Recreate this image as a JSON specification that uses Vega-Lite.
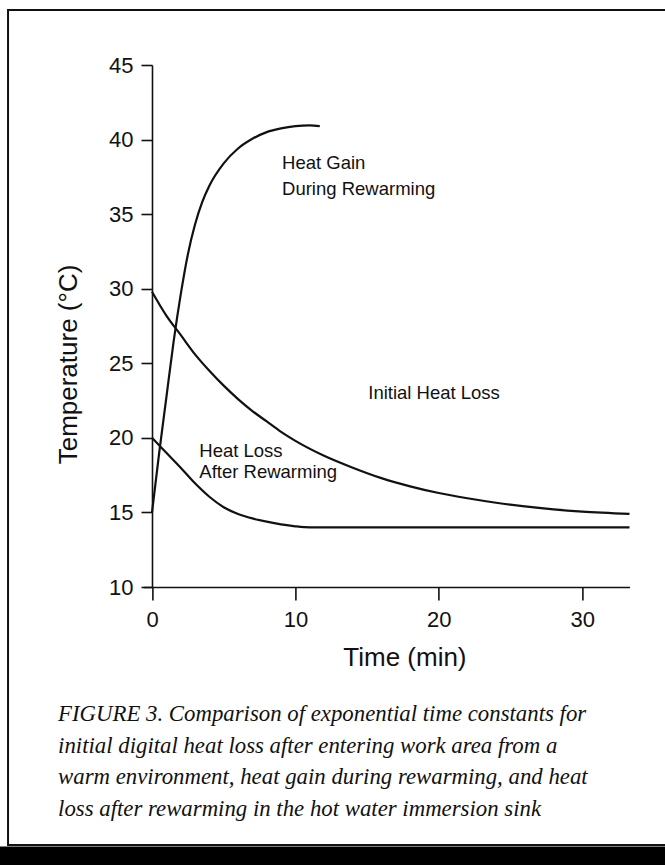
{
  "$schema": "https://vega.github.io/schema/vega-lite/v6.json",
  "autosize": "none",
  "width": 486.1,
  "height": 522,
  "padding": {"left": 143.4, "top": 65, "right": 35.5, "bottom": 278},
  "background": "white",
  "datasets": {
    "curves": [
      {"series": "Heat Gain During Rewarming", "t": 0, "temp": 15.0},
      {"series": "Heat Gain During Rewarming", "t": 0.5, "temp": 19.0},
      {"series": "Heat Gain During Rewarming", "t": 1.0, "temp": 22.7},
      {"series": "Heat Gain During Rewarming", "t": 1.5, "temp": 26.4},
      {"series": "Heat Gain During Rewarming", "t": 2.0, "temp": 29.6},
      {"series": "Heat Gain During Rewarming", "t": 2.5, "temp": 32.3},
      {"series": "Heat Gain During Rewarming", "t": 3.0, "temp": 34.3},
      {"series": "Heat Gain During Rewarming", "t": 3.5, "temp": 35.8},
      {"series": "Heat Gain During Rewarming", "t": 4.0, "temp": 36.9},
      {"series": "Heat Gain During Rewarming", "t": 5.0, "temp": 38.4},
      {"series": "Heat Gain During Rewarming", "t": 6.0, "temp": 39.4},
      {"series": "Heat Gain During Rewarming", "t": 7.0, "temp": 40.05},
      {"series": "Heat Gain During Rewarming", "t": 8.0, "temp": 40.5},
      {"series": "Heat Gain During Rewarming", "t": 9.0, "temp": 40.75},
      {"series": "Heat Gain During Rewarming", "t": 10.0, "temp": 40.9},
      {"series": "Heat Gain During Rewarming", "t": 11.0, "temp": 40.95},
      {"series": "Heat Gain During Rewarming", "t": 11.7, "temp": 40.9},
      {"series": "Initial Heat Loss", "t": 0, "temp": 29.8},
      {"series": "Initial Heat Loss", "t": 1, "temp": 28.2},
      {"series": "Initial Heat Loss", "t": 2, "temp": 26.9},
      {"series": "Initial Heat Loss", "t": 3, "temp": 25.6},
      {"series": "Initial Heat Loss", "t": 4, "temp": 24.5},
      {"series": "Initial Heat Loss", "t": 5, "temp": 23.5},
      {"series": "Initial Heat Loss", "t": 6, "temp": 22.6},
      {"series": "Initial Heat Loss", "t": 7, "temp": 21.8},
      {"series": "Initial Heat Loss", "t": 8, "temp": 21.1},
      {"series": "Initial Heat Loss", "t": 9, "temp": 20.4},
      {"series": "Initial Heat Loss", "t": 10, "temp": 19.8},
      {"series": "Initial Heat Loss", "t": 12, "temp": 18.8},
      {"series": "Initial Heat Loss", "t": 14, "temp": 18.0},
      {"series": "Initial Heat Loss", "t": 16, "temp": 17.3},
      {"series": "Initial Heat Loss", "t": 18, "temp": 16.75},
      {"series": "Initial Heat Loss", "t": 20, "temp": 16.3},
      {"series": "Initial Heat Loss", "t": 22, "temp": 15.95},
      {"series": "Initial Heat Loss", "t": 24, "temp": 15.65},
      {"series": "Initial Heat Loss", "t": 26, "temp": 15.4},
      {"series": "Initial Heat Loss", "t": 28, "temp": 15.2},
      {"series": "Initial Heat Loss", "t": 30, "temp": 15.05},
      {"series": "Initial Heat Loss", "t": 33.3, "temp": 14.9},
      {"series": "Heat Loss After Rewarming", "t": 0, "temp": 20.0},
      {"series": "Heat Loss After Rewarming", "t": 1, "temp": 19.0},
      {"series": "Heat Loss After Rewarming", "t": 2, "temp": 18.0},
      {"series": "Heat Loss After Rewarming", "t": 3, "temp": 16.95},
      {"series": "Heat Loss After Rewarming", "t": 4, "temp": 16.05},
      {"series": "Heat Loss After Rewarming", "t": 5, "temp": 15.35},
      {"series": "Heat Loss After Rewarming", "t": 6, "temp": 14.9},
      {"series": "Heat Loss After Rewarming", "t": 7, "temp": 14.6},
      {"series": "Heat Loss After Rewarming", "t": 8, "temp": 14.38},
      {"series": "Heat Loss After Rewarming", "t": 9, "temp": 14.2},
      {"series": "Heat Loss After Rewarming", "t": 10, "temp": 14.07},
      {"series": "Heat Loss After Rewarming", "t": 11, "temp": 14.0},
      {"series": "Heat Loss After Rewarming", "t": 15, "temp": 14.0},
      {"series": "Heat Loss After Rewarming", "t": 20, "temp": 14.0},
      {"series": "Heat Loss After Rewarming", "t": 25, "temp": 14.0},
      {"series": "Heat Loss After Rewarming", "t": 30, "temp": 14.0},
      {"series": "Heat Loss After Rewarming", "t": 33.3, "temp": 14.0}
    ],
    "labels": [
      {"label": "Heat Gain", "t": 9.07, "temp": 38.03},
      {"label": "During Rewarming", "t": 9.07, "temp": 36.28},
      {"label": "Initial Heat Loss", "t": 15.08, "temp": 22.6},
      {"label": "Heat Loss", "t": 3.3, "temp": 18.74},
      {"label": "After Rewarming", "t": 3.3, "temp": 17.29}
    ]
  },
  "layer": [
    {
      "data": {"name": "curves"},
      "mark": {"type": "line", "color": "#111111", "strokeWidth": 2.2, "interpolate": "monotone"},
      "encoding": {
        "x": {
          "field": "t", "type": "quantitative",
          "scale": {"domain": [-0.6, 33.3], "nice": false, "zero": false},
          "axis": {
            "title": "Time (min)",
            "values": [0, 10, 20, 30],
            "format": "d",
            "grid": false,
            "domainColor": "#111111", "domainWidth": 1.6,
            "tickColor": "#111111", "tickWidth": 1.6, "tickSize": 13,
            "labelFont": "Liberation Sans", "labelFontSize": 22, "labelColor": "#111111", "labelPadding": 9,
            "titleFont": "Liberation Sans", "titleFontSize": 26, "titleFontWeight": "normal", "titleColor": "#111111",
            "titleX": 261, "titleY": 78, "titleAlign": "center", "titleBaseline": "alphabetic"
          }
        },
        "y": {
          "field": "temp", "type": "quantitative",
          "scale": {"domain": [10, 45], "nice": false, "zero": false},
          "axis": {
            "title": "Temperature (°C)",
            "values": [10, 15, 20, 25, 30, 35, 40, 45],
            "grid": false,
            "offset": -8.6,
            "domainColor": "#111111", "domainWidth": 1.6,
            "tickColor": "#111111", "tickWidth": 1.6, "tickSize": 11,
            "labelFont": "Liberation Sans", "labelFontSize": 22, "labelColor": "#111111", "labelPadding": 8,
            "titleFont": "Liberation Sans", "titleFontSize": 26, "titleFontWeight": "normal", "titleColor": "#111111",
            "titleAngle": -90, "titleX": -76, "titleY": 299, "titleAlign": "center", "titleBaseline": "alphabetic"
          }
        },
        "detail": {"field": "series", "type": "nominal"}
      }
    },
    {
      "data": {"values": [{}]},
      "mark": {"type": "rect", "filled": false, "stroke": "#111111", "strokeWidth": 2},
      "encoding": {
        "x": {"datum": -10.04, "type": "quantitative", "scale": {"domain": [-0.6, 33.3], "nice": false, "zero": false}},
        "x2": {"datum": 37},
        "y": {"datum": 48.69, "type": "quantitative", "scale": {"domain": [10, 45], "nice": false, "zero": false}},
        "y2": {"datum": -7.3}
      }
    },
    {
      "data": {"values": [{}]},
      "mark": {"type": "rect", "fill": "#000000", "stroke": null},
      "encoding": {
        "x": {"datum": -11, "type": "quantitative", "scale": {"domain": [-0.6, 33.3], "nice": false, "zero": false}},
        "x2": {"datum": 37},
        "y": {"datum": -7.4, "type": "quantitative", "scale": {"domain": [10, 45], "nice": false, "zero": false}},
        "y2": {"datum": -9.5}
      }
    },
    {
      "data": {"name": "labels"},
      "mark": {"type": "text", "align": "left", "baseline": "alphabetic", "font": "Liberation Sans", "fontSize": 18.5, "color": "#111111"},
      "encoding": {
        "x": {"field": "t", "type": "quantitative", "scale": {"domain": [-0.6, 33.3], "nice": false, "zero": false}},
        "y": {"field": "temp", "type": "quantitative", "scale": {"domain": [10, 45], "nice": false, "zero": false}},
        "text": {"field": "label", "type": "nominal"}
      }
    },
    {
      "data": {"values": [{}]},
      "mark": {
        "type": "text",
        "text": [
          "FIGURE 3. Comparison of exponential time constants for",
          "initial digital heat loss after entering work area from a",
          "warm environment, heat gain during rewarming, and heat",
          "loss after rewarming in the hot water immersion sink"
        ],
        "align": "left",
        "baseline": "alphabetic",
        "lineHeight": 31.5,
        "font": "Liberation Serif",
        "fontStyle": "italic",
        "fontSize": 22.8,
        "color": "#111111"
      },
      "encoding": {
        "x": {"datum": -6.55, "type": "quantitative", "scale": {"domain": [-0.6, 33.3], "nice": false, "zero": false}},
        "y": {"datum": 1.0, "type": "quantitative", "scale": {"domain": [10, 45], "nice": false, "zero": false}}
      }
    }
  ],
  "config": {
    "view": {"stroke": null},
    "axis": {"labelFlush": false, "labelOverlap": false}
  }
}
